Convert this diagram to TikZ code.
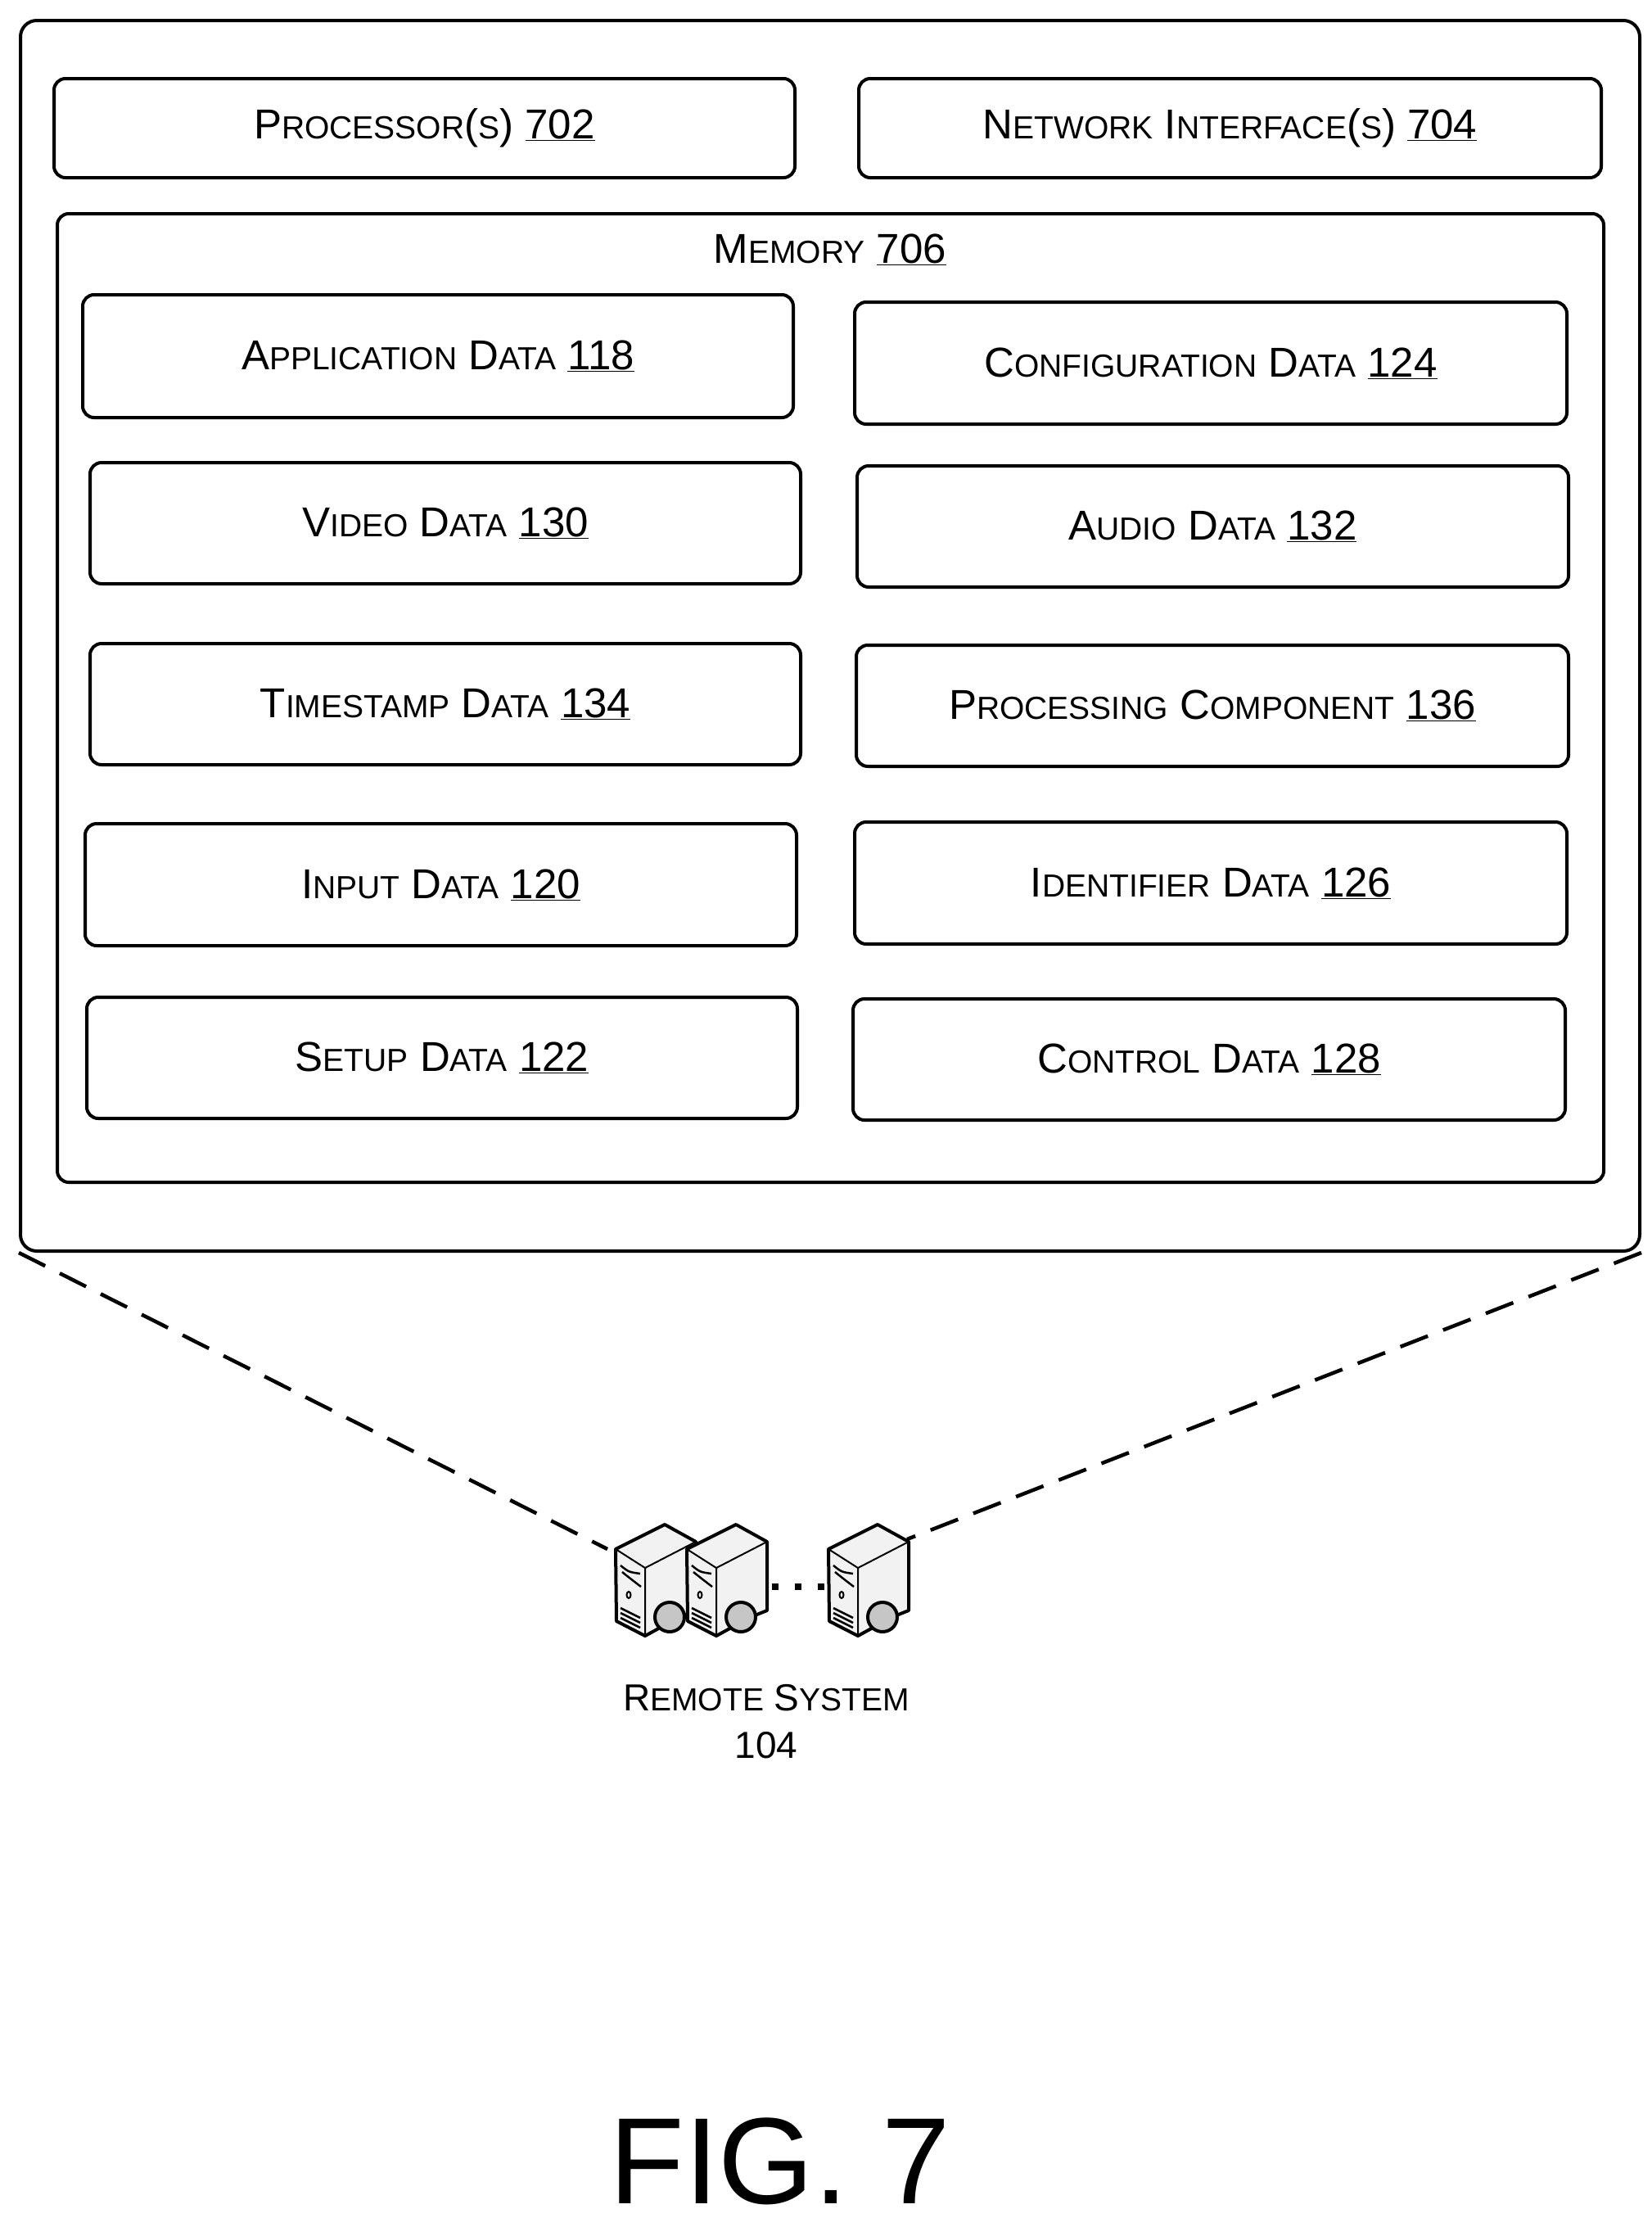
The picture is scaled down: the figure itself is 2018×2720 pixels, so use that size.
\documentclass[tikz,border=0pt]{standalone}
\usepackage{fontspec}
\setmainfont{Liberation Sans}
\newcommand{\fsc}[2]{#1{\fontsize{39}{42}\selectfont #2}}
\newcommand{\num}[1]{ \underline{#1}}
\begin{document}
\begin{tikzpicture}[x=1pt,y=-1pt,
  box/.style={draw,line width=4pt,rounded corners=14pt},
  lbl/.style={font=\fontsize{51}{56}\selectfont},
  srv/.style={line width=4pt,line join=round}]
\useasboundingbox (0,0) rectangle (2018,2720);
\node[box,minimum width=1978,minimum height=1503,anchor=north west,rounded corners=20pt] (outer) at (23,23) {};
\newcommand{\bx}[6]{\draw[box] (#1,#3) rectangle (#2,#4); \node[lbl] (#5) at ({(#1+#2)/2},{(#3+#4)/2}) {#6};}
\bx{66}{971}{96}{217}{proc}{\fsc{P}{ROCESSOR}(\fsc{}{S})\num{702}}
\bx{1049}{1956}{96}{217}{net}{\fsc{N}{ETWORK} \fsc{I}{NTERFACE}(\fsc{}{S})\num{704}}
\draw[box] (70,261) rectangle (1959,1444);
\node[lbl] (mem) at (1014,305) {\fsc{M}{EMORY}\num{706}};
\bx{101}{969}{360}{510}{app}{\fsc{A}{PPLICATION} \fsc{D}{ATA}\num{118}}
\bx{1044}{1914}{369}{518}{cfg}{\fsc{C}{ONFIGURATION} \fsc{D}{ATA}\num{124}}
\bx{110}{978}{565}{713}{vid}{\fsc{V}{IDEO} \fsc{D}{ATA}\num{130}}
\bx{1047}{1916}{569}{717}{aud}{\fsc{A}{UDIO} \fsc{D}{ATA}\num{132}}
\bx{110}{978}{786}{934}{ts}{\fsc{T}{IMESTAMP} \fsc{D}{ATA}\num{134}}
\bx{1046}{1916}{788}{936}{pc}{\fsc{P}{ROCESSING} \fsc{C}{OMPONENT}\num{136}}
\bx{104}{973}{1006}{1155}{inp}{\fsc{I}{NPUT} \fsc{D}{ATA}\num{120}}
\bx{1044}{1914}{1004}{1153}{idd}{\fsc{I}{DENTIFIER} \fsc{D}{ATA}\num{126}}
\bx{106}{974}{1218}{1366}{set}{\fsc{S}{ETUP} \fsc{D}{ATA}\num{122}}
\bx{1042}{1912}{1220}{1368}{ctl}{\fsc{C}{ONTROL} \fsc{D}{ATA}\num{128}}
% servers
\newcommand{\server}[1]{%
\begin{scope}[shift={(#1,1840)}]
\fill[gray!10,draw=black,srv] (32,52)--(92,22)--(130,43)--(130,127)--(110,135)--(68,158)--(33,140)--cycle;
\draw[line width=2pt] (32,52)--(68,75)--(130,43) (68,75)--(68,158);
\draw[line width=2.5pt] (38,72) .. controls (48,80) .. (62,82) (40,80) .. controls (50,88) .. (63,98);
\draw[line width=2pt] (48,108) ellipse (2.5 and 4);
\draw[line width=2.5pt] (38,124)--(62,136) (38,130)--(62,142) (38,136)--(62,148);
\fill[gray!45,draw=black,line width=4pt] (98,135) circle (18);
\end{scope}}
\server{720}\server{807}\server{980}
\coordinate (s1) at (742,1892);
\coordinate (s3) at (1108,1880);
\foreach \xx in {947,975,1003} \fill (\xx-4,1934) rectangle (\xx+4,1942);
\node[font=\fontsize{46}{58}\selectfont,align=center] (rs) at (936,2103) {\fsc{R}{EMOTE} \fsc{S}{YSTEM}\\104};
\draw[line width=4.5pt,dash pattern=on 36pt off 20pt] (outer.south west) -- (s1);
\draw[line width=4.5pt,dash pattern=on 36pt off 20pt] (outer.south east) -- (s3);
\node[font=\fontsize{150}{155}\selectfont] (fig) at (953,2640) {FIG. 7};
\end{tikzpicture}
\end{document}
